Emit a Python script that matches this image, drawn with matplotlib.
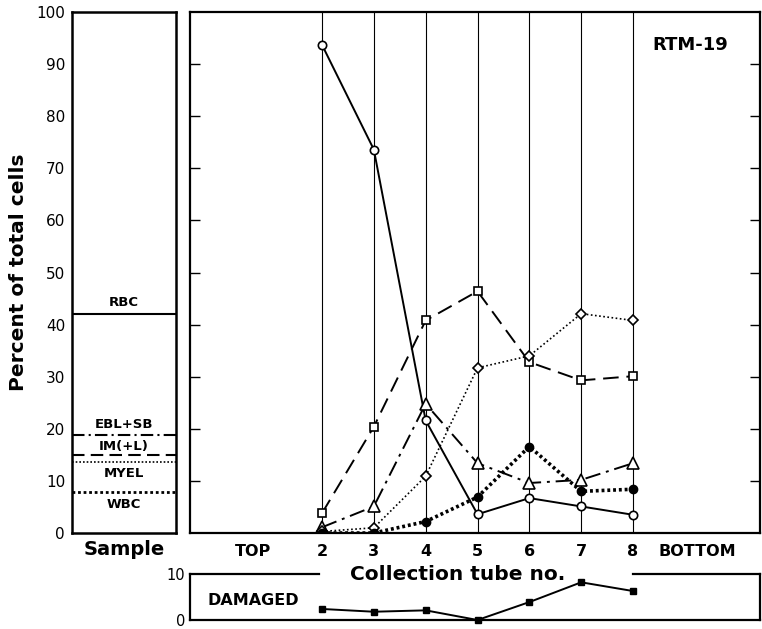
import numpy as np
import matplotlib
matplotlib.use("Agg")
import matplotlib.pyplot as plt

plt.rcParams['font.family'] = ['DejaVu Sans']

# collection tubes
tubes = [2, 3, 4, 5, 6, 7, 8]

# percent of total cells per tube
rbc = [93.7, 73.6, 21.6, 3.6, 6.7, 5.1, 3.5]        # open circles, solid
im_l = [3.8, 20.4, 40.8, 46.4, 32.8, 29.3, 30.1]     # squares, dashed
ebl_sb = [1.1, 5.1, 24.8, 13.4, 9.6, 10.2, 13.4]     # triangles, dash-dot
myel = [0.3, 1.0, 10.9, 31.7, 34.0, 42.1, 40.8]      # diamonds, dotted
wbc = [0.0, 0.0, 2.2, 6.9, 16.6, 8.0, 8.4]           # filled circles, heavy dots
damaged = [2.4, 1.8, 2.1, 0.0, 3.9, 8.2, 6.3]

# sample composition (cumulative levels)
sample_names = ['RBC', 'EBL+SB', 'IM(+L)', 'MYEL', 'WBC']
sample_levels = [42.0, 18.8, 15.0, 13.7, 7.8]
sample_text_y = [44.2, 20.8, 16.7, 11.4, 5.4]

fig = plt.figure(figsize=(7.62, 6.29), dpi=100)
ax_s = fig.add_axes([0.0945, 0.1526, 0.1365, 0.8283])
ax_d = fig.add_axes([0.2487, 0.0143, 0.7487, 0.0731])
ax = fig.add_axes([0.2487, 0.1526, 0.7487, 0.8283])

# ---- sample panel ----
styles = [dict(ls='-', lw=1.5), dict(ls=(0, (6, 2, 1, 2)), lw=1.5),
          dict(ls=(0, (6, 3)), lw=1.5), dict(ls=(0, (1, 1.2)), lw=1.2),
          dict(ls=(0, (1, 1)), lw=2.0)]
for lev, st in zip(sample_levels, styles):
    ax_s.axhline(lev, color='black', **st)
for name, ty in zip(sample_names, sample_text_y):
    ax_s.text(0.5, ty, name, ha='center', va='center', fontsize=9.5, fontweight='semibold')
ax_s.set_xlim(0, 1)
ax_s.set_ylim(0, 100)
ax_s.set_xticks([])
ax_s.set_yticks(np.arange(0, 101, 10))
ax_s.tick_params(axis='y', length=0, labelsize=11, pad=5)
for sp in ax_s.spines.values():
    sp.set_linewidth(1.8)
ax_s.set_ylabel('Percent of total cells', fontsize=14.5, fontweight='bold', labelpad=6)
ax_s.set_xlabel('Sample', fontsize=14, fontweight='bold', labelpad=5)

# ---- main panel ----
xlo, xhi = -0.556, 10.45
for t in tubes:
    ax.axvline(t, color='black', lw=0.8, zorder=1)
ax.plot(tubes, rbc, color='black', lw=1.4, marker='o', ms=6, mfc='white', mec='black', mew=1.2, zorder=3)
ax.plot(tubes, im_l, color='black', lw=1.4, ls=(0, (8, 4)), marker='s', ms=6, mfc='white', mec='black', mew=1.2, zorder=3)
ax.plot(tubes, ebl_sb, color='black', lw=1.4, ls=(0, (8, 3, 1.5, 3)), marker='^', ms=9, mfc='white', mec='black', mew=1.2, zorder=3)
ax.plot(tubes, myel, color='black', lw=1.2, ls=(0, (1, 1.5)), marker='D', ms=5.5, mfc='white', mec='black', mew=1.2, zorder=3)
ax.plot(tubes, wbc, color='black', lw=2.6, ls=(0, (0.8, 0.8)), marker='o', ms=6, mfc='black', mec='black', zorder=3)
ax.text(9.1, 93.7, 'RTM-19', ha='center', va='center', fontsize=13, fontweight='bold')
ax.set_xlim(xlo, xhi)
ax.set_ylim(0, 100)
ax.set_xticks([0.667] + tubes + [9.24])
ax.set_xticklabels(['TOP'] + [str(t) for t in tubes] + ['BOTTOM'], fontweight='semibold')
ax.tick_params(axis='x', length=0, labelsize=11.5, pad=8)
ax.set_yticks(np.arange(10, 100, 10))
ax.tick_params(axis='y', direction='in', length=7, width=1.0, left=True, right=True, labelleft=False)
for sp in ax.spines.values():
    sp.set_linewidth(1.6)
ax.set_xlabel('Collection tube no.', fontsize=14.5, fontweight='bold')
ax.xaxis.set_label_coords(0.47, -0.062)

# ---- damaged panel ----
ax_d.patch.set_visible(False)
ax_d.plot(tubes, damaged, color='black', lw=1.4, marker='s', ms=5, mfc='black', mec='black', clip_on=False)
ax_d.set_xlim(xlo, xhi)
ax_d.set_ylim(0, 10)
ax_d.set_xticks([])
ax_d.set_yticks([0, 10])
ax_d.tick_params(axis='y', length=0, labelsize=10.5, pad=3)
ax_d.spines['top'].set_visible(False)
for sp in ax_d.spines.values():
    sp.set_linewidth(1.6)
ax_d.axhline(10, xmin=0, xmax=(1.95 - xlo) / (xhi - xlo), color='black', lw=1.6, clip_on=False)
ax_d.axhline(10, xmin=(8.0 - xlo) / (xhi - xlo), xmax=1, color='black', lw=1.6, clip_on=False)
ax_d.text(0.67, 4.2, 'DAMAGED', ha='center', va='center', fontsize=11.5, fontweight='bold')

fig.savefig('out.png', dpi=100)
